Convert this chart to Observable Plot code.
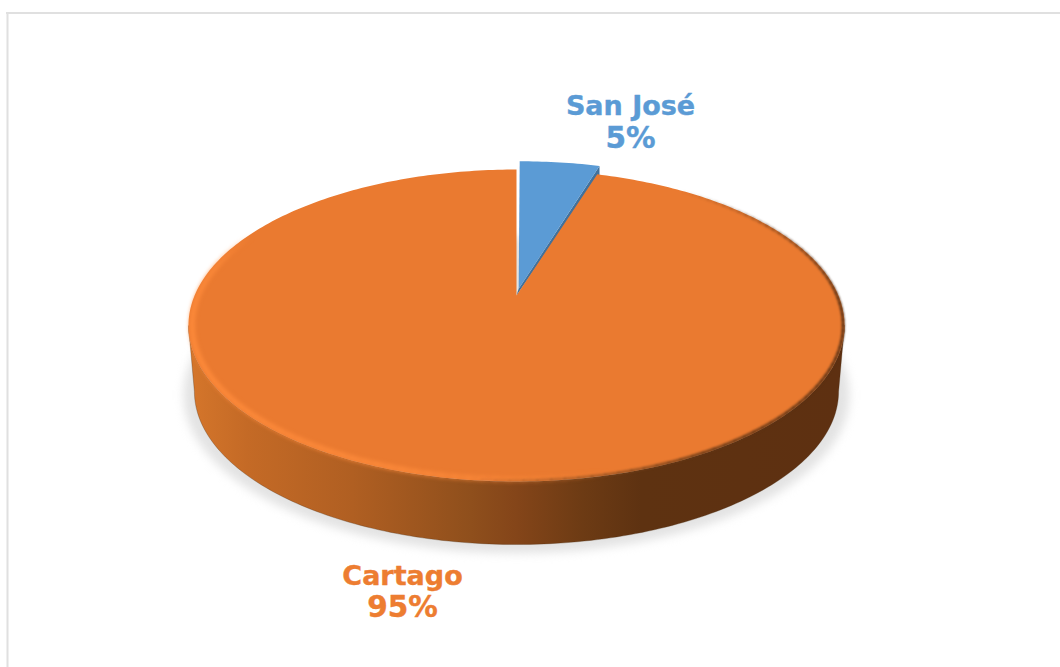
<!DOCTYPE html>
<html>
<head>
<meta charset="utf-8">
<script src="https://cdn.jsdelivr.net/npm/d3@7"></script>
<script src="https://cdn.jsdelivr.net/npm/@observablehq/plot@0.6"></script>
<style>
html,body{margin:0;padding:0;background:#fff}
svg{display:block}
</style>
</head>
<body>
<div id="chart"></div>
<script>
// Data
const categories = ["San José", "Cartago"];
const shares = [0.048, 0.952];
const sliceColors = ["#5b9bd5", "#ea7a30"];
const labelColors = ["#5b9bd5", "#ed7d31"];

// Layout: perspective view of the disc
const W = 1060, H = 667;
const view = {cx: 516, cy: 295, A: 321.9, B: 150.2, k: 0.1923};
const topLayer = {scale: 1, cy: view.cy};
const base = {scale: 0.982, cy: 361.4};
const shadow = {scale: 1.015, cy: 364};
const explodeRim = 0.08, explodeApex = 0.045;
const nameAt = [[630, 106], [402, 576]];
const pctAt = [[630, 138], [402, 607]];
const rad = (d) => d * Math.PI / 180;

function project(theta, r = 1, dx = 0, dy = 0, layer = topLayer) {
  const u = r * Math.sin(theta) + dx, v = -r * Math.cos(theta) + dy;
  const w = 1 - view.k * v;
  return {x: view.cx + layer.scale * view.A * u / w, y: layer.cy + layer.scale * view.B * v / w};
}
function arc(a0, a1, layer = topLayer, dx = 0, dy = 0) {
  const n = Math.max(2, Math.ceil(Math.abs(a1 - a0) / rad(1)));
  return d3.range(n + 1).map((i) => project(a0 + (a1 - a0) * i / n, 1, dx, dy, layer));
}

const pie = d3.pie().sort(null).startAngle(0).endAngle(2 * Math.PI)(shares);
const [blue, orange] = pie;
const mid = (blue.startAngle + blue.endAngle) / 2;
const blueApex = project(0, 0, explodeApex * Math.sin(mid), -explodeApex * Math.cos(mid));
const orangeApex = project(0, 0);
const blueTop = arc(blue.startAngle, blue.endAngle, topLayer, explodeRim * Math.sin(mid), -explodeRim * Math.cos(mid));
const blueTip = blueTop[blueTop.length - 1];

const orangeTop = [orangeApex, ...arc(orange.startAngle, orange.endAngle)];
const blueFace = [blueApex, ...blueTop];
const blueSide = [blueApex, blueTip, {x: blueTip.x, y: blueTip.y + 9}, orangeApex];

const sideA = rad(101.1), sideB = rad(258.9);
const wall = [...arc(sideA, sideB), ...arc(sideB, sideA, base)];
const ground = arc(0, 2 * Math.PI, shadow);

// Bevel along the rim of the disc: colour depends on the angle
const rimSamples = (a0, a1, layer, color) =>
  d3.range(a0, a1 + 1, 2).map((deg) => ({...project(rad(deg), 1, 0, 0, layer), color: color(deg)}));
const brightColor = d3.scaleLinear()
  .domain([165, 180, 198, 255, 280, 295])
  .range(["rgba(255,140,60,0)", "rgba(255,140,60,.45)", "rgba(255,140,60,.8)", "rgba(255,140,60,.9)", "rgba(255,140,60,.6)", "rgba(255,140,60,0)"])
  .interpolate(d3.interpolateRgb);
const darkColor = d3.scaleLinear()
  .domain([35, 65, 95, 150, 172, 186])
  .range(["rgba(80,45,20,0)", "rgba(80,45,20,.4)", "rgba(80,45,20,.8)", "rgba(100,55,22,.85)", "rgba(140,80,35,.5)", "rgba(170,95,40,0)"])
  .interpolate(d3.interpolateRgb);
const brightRim = rimSamples(165, 295, {scale: 0.989, cy: view.cy}, brightColor);
const darkRim = rimSamples(35, 186, {scale: 0.996, cy: view.cy}, darkColor);

const names = categories.map((name, i) => ({text: name, x: nameAt[i][0], y: nameAt[i][1], color: labelColors[i]}));
const pcts = categories.map((name, i) => ({text: d3.format(".0%")(shares[i]), x: pctAt[i][0], y: pctAt[i][1], color: labelColors[i]}));

const defs = () => {
  const d = d3.create("svg:defs");
  d.html(`
    <linearGradient id="wallGrad" gradientUnits="userSpaceOnUse" x1="188" x2="844" y1="0" y2="0">
      <stop offset="0" stop-color="#d5762b"/>
      <stop offset="0.09" stop-color="#c46a26"/>
      <stop offset="0.25" stop-color="#b05f22"/>
      <stop offset="0.43" stop-color="#8f4f1c"/>
      <stop offset="0.50" stop-color="#844519"/>
      <stop offset="0.60" stop-color="#6d3b14"/>
      <stop offset="0.69" stop-color="#5e3211"/>
      <stop offset="1" stop-color="#5e3011"/>
    </linearGradient>`);
  return d.node();
};

const poly = (pts, fill, extra = {}) =>
  Plot.line(pts, {x: "x", y: "y", fill, stroke: "none", curve: "linear-closed", ...extra});
const labelStyle = {
  x: "x", y: "y", text: "text", fill: "color", stroke: "color", strokeWidth: 0.4,
  fontFamily: "DejaVu Sans", fontWeight: "bold"
};

const plot = Plot.plot({
  width: W, height: H,
  marginTop: 0, marginRight: 0, marginBottom: 0, marginLeft: 0,
  style: {background: "#ffffff"},
  x: {axis: null, domain: [0, W], range: [0, W]},
  y: {axis: null, domain: [0, H], range: [0, H]},
  marks: [
    defs,
    Plot.ruleY([12.5], {x1: 6, x2: W, stroke: "#e0e0e0", strokeWidth: 2}),
    Plot.ruleX([7], {y1: 12, y2: H, stroke: "#e0e0e0", strokeWidth: 2}),
    poly(ground, "#dcdcdc", {imageFilter: "blur(5px)", fillOpacity: 0.8}),
    poly(wall, "url(#wallGrad)", {stroke: "#4a2a10", strokeWidth: 0.6, strokeOpacity: 0.5}),
    poly(blueSide, "#41719c"),
    poly(orangeTop, sliceColors[1]),
    Plot.line(brightRim, {x: "x", y: "y", stroke: "color", z: null, strokeWidth: 5, imageFilter: "blur(2px)"}),
    Plot.line(darkRim, {x: "x", y: "y", stroke: "color", z: null, strokeWidth: 3, imageFilter: "blur(1.3px)"}),
    poly(blueFace, sliceColors[0]),
    Plot.text(names, {...labelStyle, fontSize: 27}),
    Plot.text(pcts, {...labelStyle, fontSize: 29.5})
  ]
});
document.getElementById("chart").append(plot);
</script>
</body>
</html>
